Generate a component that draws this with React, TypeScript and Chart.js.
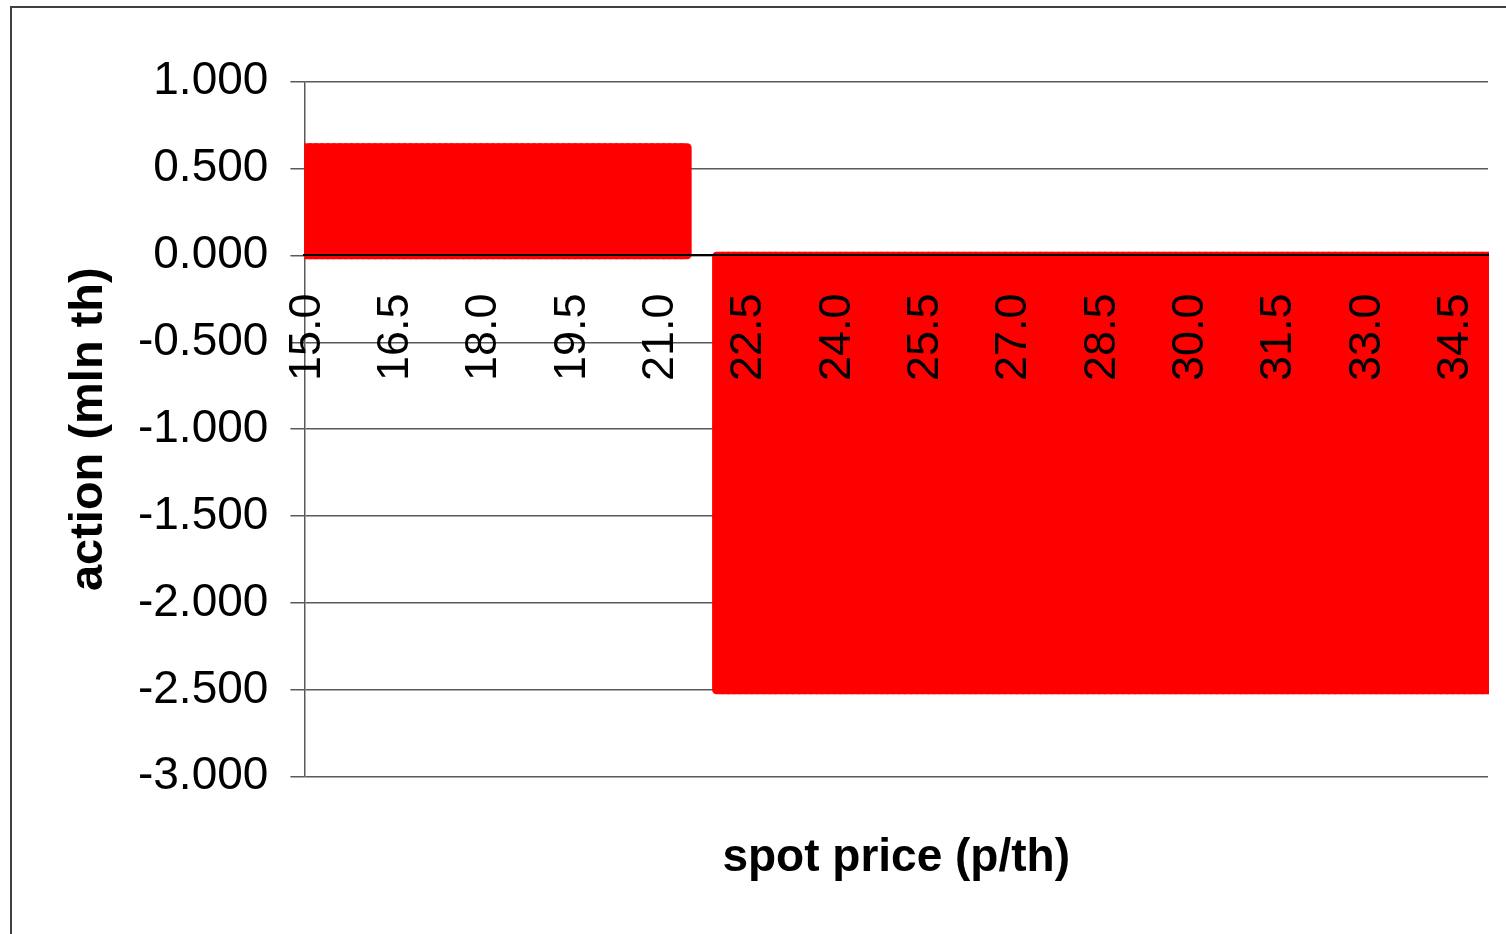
import { useEffect, useRef } from 'react';
import { Chart, registerables } from 'chart.js';

Chart.register(...registerables);

// Spot price categories (p/th), one bar per 0.1
const CATEGORIES = [
  '15.0', '15.1', '15.2', '15.3', '15.4', '15.5', '15.6', '15.7', '15.8', '15.9',
  '16.0', '16.1', '16.2', '16.3', '16.4', '16.5', '16.6', '16.7', '16.8', '16.9',
  '17.0', '17.1', '17.2', '17.3', '17.4', '17.5', '17.6', '17.7', '17.8', '17.9',
  '18.0', '18.1', '18.2', '18.3', '18.4', '18.5', '18.6', '18.7', '18.8', '18.9',
  '19.0', '19.1', '19.2', '19.3', '19.4', '19.5', '19.6', '19.7', '19.8', '19.9',
  '20.0', '20.1', '20.2', '20.3', '20.4', '20.5', '20.6', '20.7', '20.8', '20.9',
  '21.0', '21.1', '21.2', '21.3', '21.4', '21.5', '21.6', '21.7', '21.8', '21.9',
  '22.0', '22.1', '22.2', '22.3', '22.4', '22.5', '22.6', '22.7', '22.8', '22.9',
  '23.0', '23.1', '23.2', '23.3', '23.4', '23.5', '23.6', '23.7', '23.8', '23.9',
  '24.0', '24.1', '24.2', '24.3', '24.4', '24.5', '24.6', '24.7', '24.8', '24.9',
  '25.0', '25.1', '25.2', '25.3', '25.4', '25.5', '25.6', '25.7', '25.8', '25.9',
  '26.0', '26.1', '26.2', '26.3', '26.4', '26.5', '26.6', '26.7', '26.8', '26.9',
  '27.0', '27.1', '27.2', '27.3', '27.4', '27.5', '27.6', '27.7', '27.8', '27.9',
  '28.0', '28.1', '28.2', '28.3', '28.4', '28.5', '28.6', '28.7', '28.8', '28.9',
  '29.0', '29.1', '29.2', '29.3', '29.4', '29.5', '29.6', '29.7', '29.8', '29.9',
  '30.0', '30.1', '30.2', '30.3', '30.4', '30.5', '30.6', '30.7', '30.8', '30.9',
  '31.0', '31.1', '31.2', '31.3', '31.4', '31.5', '31.6', '31.7', '31.8', '31.9',
  '32.0', '32.1', '32.2', '32.3', '32.4', '32.5', '32.6', '32.7', '32.8', '32.9',
  '33.0', '33.1', '33.2', '33.3', '33.4', '33.5', '33.6', '33.7', '33.8', '33.9',
  '34.0', '34.1', '34.2', '34.3', '34.4', '34.5', '34.6', '34.7', '34.8', '34.9',
  '35.0',
];

// Action (mln th) at each spot price
const ACTION = [
  0.62, 0.62, 0.62, 0.62, 0.62, 0.62, 0.62, 0.62, 0.62, 0.62,
  0.62, 0.62, 0.62, 0.62, 0.62, 0.62, 0.62, 0.62, 0.62, 0.62,
  0.62, 0.62, 0.62, 0.62, 0.62, 0.62, 0.62, 0.62, 0.62, 0.62,
  0.62, 0.62, 0.62, 0.62, 0.62, 0.62, 0.62, 0.62, 0.62, 0.62,
  0.62, 0.62, 0.62, 0.62, 0.62, 0.62, 0.62, 0.62, 0.62, 0.62,
  0.62, 0.62, 0.62, 0.62, 0.62, 0.62, 0.62, 0.62, 0.62, 0.62,
  0.62, 0.62, 0.62, 0.62, 0.62, 0, 0, 0, 0, 0,
  -2.5, -2.5, -2.5, -2.5, -2.5, -2.5, -2.5, -2.5, -2.5, -2.5,
  -2.5, -2.5, -2.5, -2.5, -2.5, -2.5, -2.5, -2.5, -2.5, -2.5,
  -2.5, -2.5, -2.5, -2.5, -2.5, -2.5, -2.5, -2.5, -2.5, -2.5,
  -2.5, -2.5, -2.5, -2.5, -2.5, -2.5, -2.5, -2.5, -2.5, -2.5,
  -2.5, -2.5, -2.5, -2.5, -2.5, -2.5, -2.5, -2.5, -2.5, -2.5,
  -2.5, -2.5, -2.5, -2.5, -2.5, -2.5, -2.5, -2.5, -2.5, -2.5,
  -2.5, -2.5, -2.5, -2.5, -2.5, -2.5, -2.5, -2.5, -2.5, -2.5,
  -2.5, -2.5, -2.5, -2.5, -2.5, -2.5, -2.5, -2.5, -2.5, -2.5,
  -2.5, -2.5, -2.5, -2.5, -2.5, -2.5, -2.5, -2.5, -2.5, -2.5,
  -2.5, -2.5, -2.5, -2.5, -2.5, -2.5, -2.5, -2.5, -2.5, -2.5,
  -2.5, -2.5, -2.5, -2.5, -2.5, -2.5, -2.5, -2.5, -2.5, -2.5,
  -2.5, -2.5, -2.5, -2.5, -2.5, -2.5, -2.5, -2.5, -2.5, -2.5,
  -2.5, -2.5, -2.5, -2.5, -2.5, -2.5, -2.5, -2.5, -2.5, -2.5,
  -2.5,
];

// Category labels shown on the price axis
const TICK_LABELS = [
  '15.0', '16.5', '18.0', '19.5', '21.0', '22.5', '24.0',
  '25.5', '27.0', '28.5', '30.0', '31.5', '33.0', '34.5',
];

const Y_MIN = -3;
const Y_MAX = 1;
const Y_STEP = 0.5;

const RED = '#ff0000';
const GRID = '#5a5a5a';
const FONT = "'Liberation Sans', Arial, Helvetica, sans-serif";

// Thick outline with rounded joins around every non-zero bar
const barOutline = {
  id: 'barOutline',
  afterDatasetsDraw(chart: any) {
    const { ctx, chartArea } = chart;
    const meta = chart.getDatasetMeta(0);
    ctx.save();
    ctx.beginPath();
    ctx.rect(chartArea.left, 0, chartArea.right - chartArea.left + 1, chart.height);
    ctx.clip();
    ctx.strokeStyle = RED;
    ctx.lineWidth = 9;
    ctx.lineJoin = 'round';
    meta.data.forEach((bar: any, i: number) => {
      if (!ACTION[i]) return;
      const { x, y, base, width } = bar.getProps(['x', 'y', 'base', 'width'], true);
      ctx.strokeRect(x - width / 2, Math.min(y, base), width, Math.abs(base - y));
    });
    ctx.restore();
  },
};

function ActionChart() {
  const canvasRef = useRef<HTMLCanvasElement>(null);

  useEffect(() => {
    const chart = new Chart(canvasRef.current as HTMLCanvasElement, {
      type: 'bar',
      data: {
        labels: CATEGORIES,
        datasets: [
          {
            data: ACTION,
            backgroundColor: RED,
            borderWidth: 0,
            barPercentage: 1,
            categoryPercentage: 1,
          },
        ],
      },
      options: {
        responsive: false,
        animation: false,
        events: [],
        layout: { padding: { left: 48.4, right: 124, top: 73.7, bottom: 78.4 } },
        plugins: {
          legend: { display: false },
          tooltip: { enabled: false },
          title: {
            display: true,
            position: 'bottom',
            fullSize: false,
            text: 'spot price (p/th)',
            color: '#000',
            font: { family: FONT, size: 46, weight: 'bold' },
            padding: { top: 53.7, bottom: 0 },
          },
        },
        scales: {
          x: {
            type: 'category',
            position: { y: 0 },
            grid: { display: false, drawTicks: false },
            border: { display: true, color: '#000', width: 2, z: 1 },
            ticks: {
              z: 1,
              autoSkip: false,
              minRotation: 90,
              maxRotation: 90,
              padding: 38,
              color: '#000',
              font: { family: FONT, size: 45 },
              callback: (_v: any, i: number) =>
                TICK_LABELS.includes(CATEGORIES[i]) ? CATEGORIES[i] : '',
            },
          },
          y: {
            min: Y_MIN,
            max: Y_MAX,
            afterFit: (scale: any) => {
              scale.width = 244;
            },
            grid: { color: GRID, lineWidth: 1.5, tickLength: 14, drawTicks: true },
            border: { color: GRID, width: 1.5 },
            ticks: {
              stepSize: Y_STEP,
              padding: 22,
              color: '#000',
              font: { family: FONT, size: 46 },
              callback: (v: any) => {
                const n = Math.abs(Number(v)) < 1e-9 ? 0 : Number(v);
                return n.toFixed(3);
              },
            },
            title: {
              display: true,
              text: 'action (mln th)',
              color: '#000',
              font: { family: FONT, size: 47, weight: 'bold' },
              padding: { top: 0, bottom: 0 },
            },
          },
        },
      } as any,
      plugins: [barOutline],
    });
    return () => chart.destroy();
  }, []);

  return (
    <canvas
      ref={canvasRef}
      width={1600}
      height={956}
      style={{ display: 'block', width: 1600, height: 956 }}
    />
  );
}

export default function App() {
  return (
    <div style={{ position: 'fixed', inset: 0, overflow: 'hidden', background: '#fff' }}>
      <div
        style={{
          position: 'absolute',
          left: 10,
          top: 6,
          border: '2px solid #404040',
          background: '#fff',
        }}
      >
        <ActionChart />
      </div>
    </div>
  );
}
